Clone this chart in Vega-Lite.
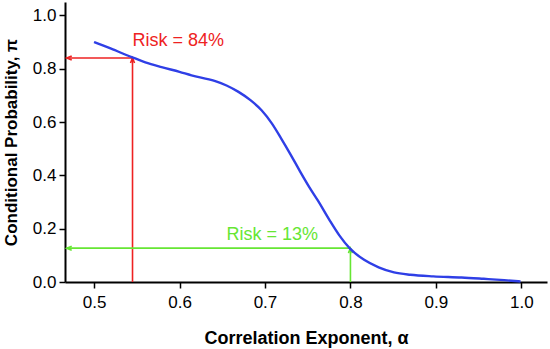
{
  "$schema": "https://vega.github.io/schema/vega-lite/v6.json",
  "width": 482,
  "height": 280,
  "autosize": "none",
  "padding": {"left": 65, "top": 2, "right": 3, "bottom": 67},
  "background": "white",
  "config": {
    "view": {"stroke": null},
    "font": "Liberation Sans",
    "axis": {
      "grid": false,
      "domainColor": "black",
      "domainWidth": 2,
      "tickColor": "black",
      "tickWidth": 1.5,
      "tickSize": 6,
      "labelFont": "Liberation Sans",
      "labelFontSize": 17,
      "labelColor": "black",
      "titleFont": "Liberation Sans",
      "titleFontSize": 17,
      "titleFontWeight": "bold",
      "titleColor": "black"
    }
  },
  "datasets": {
    "curve": [
      {"alpha": 0.5, "pi": 0.9},
      {"alpha": 0.52, "pi": 0.875},
      {"alpha": 0.544, "pi": 0.843},
      {"alpha": 0.56, "pi": 0.824},
      {"alpha": 0.579, "pi": 0.806},
      {"alpha": 0.6, "pi": 0.788},
      {"alpha": 0.614, "pi": 0.775},
      {"alpha": 0.641, "pi": 0.754},
      {"alpha": 0.655, "pi": 0.737},
      {"alpha": 0.669, "pi": 0.713},
      {"alpha": 0.683, "pi": 0.682},
      {"alpha": 0.696, "pi": 0.644},
      {"alpha": 0.708, "pi": 0.595},
      {"alpha": 0.719, "pi": 0.538},
      {"alpha": 0.73, "pi": 0.478},
      {"alpha": 0.741, "pi": 0.415},
      {"alpha": 0.752, "pi": 0.355},
      {"alpha": 0.762, "pi": 0.305},
      {"alpha": 0.775, "pi": 0.235},
      {"alpha": 0.787, "pi": 0.175},
      {"alpha": 0.799, "pi": 0.127},
      {"alpha": 0.816, "pi": 0.083},
      {"alpha": 0.833, "pi": 0.055},
      {"alpha": 0.851, "pi": 0.036},
      {"alpha": 0.87, "pi": 0.027},
      {"alpha": 0.897, "pi": 0.021},
      {"alpha": 0.93, "pi": 0.017},
      {"alpha": 0.956, "pi": 0.012},
      {"alpha": 0.98, "pi": 0.007},
      {"alpha": 0.999, "pi": 0.002}
    ],
    "arrows": [
      {"risk": "84%", "a1": 0.468, "a2": 0.545, "p1": 0.84, "p2": 0.84},
      {"risk": "84%", "a1": 0.545, "a2": 0.545, "p1": 0.0, "p2": 0.84},
      {"risk": "13%", "a1": 0.468, "a2": 0.8, "p1": 0.127, "p2": 0.127},
      {"risk": "13%", "a1": 0.8, "a2": 0.8, "p1": 0.0, "p2": 0.127}
    ],
    "heads": [
      {"risk": "84%", "leftA": 0.468, "upA": 0.545, "p": 0.84},
      {"risk": "13%", "leftA": 0.468, "upA": 0.8, "p": 0.127}
    ],
    "labels": [
      {"risk": "84%", "a": 0.545, "p": 0.903, "text": "Risk = 84%", "anchor": "left"},
      {"risk": "13%", "a": 0.762, "p": 0.177, "text": "Risk = 13%", "anchor": "right"}
    ]
  },
  "layer": [
    {
      "data": {"name": "arrows"},
      "mark": {"type": "rule", "strokeWidth": 1.6},
      "encoding": {
        "x": {"field": "a1", "type": "quantitative", "scale": {"domain": [0.466, 1.03], "nice": false, "zero": false},
          "axis": {"values": [0.5, 0.6, 0.7, 0.8, 0.9, 1.0], "format": ".1f", "title": "Correlation Exponent, α", "titleFontSize": 18, "labelPadding": 6, "titlePadding": 19}},
        "x2": {"field": "a2"},
        "y": {"field": "p1", "type": "quantitative", "scale": {"domain": [0, 1.05], "nice": false},
          "axis": {"values": [0, 0.2, 0.4, 0.6, 0.8, 1.0], "format": ".1f", "title": "Conditional Probability, π", "labelPadding": 3, "titlePadding": 12}},
        "y2": {"field": "p2"},
        "color": {"field": "risk", "type": "nominal", "scale": {"domain": ["84%", "13%"], "range": ["#ee2222", "#66e633"]}, "legend": null}
      }
    },
    {
      "data": {"name": "heads"},
      "mark": {"type": "point", "shape": "M2.5,-1L0,0L2.5,1", "filled": false, "size": 16, "strokeWidth": 1.6, "opacity": 1},
      "encoding": {
        "x": {"field": "leftA", "type": "quantitative"},
        "y": {"field": "p", "type": "quantitative"},
        "color": {"field": "risk", "type": "nominal", "legend": null}
      }
    },
    {
      "data": {"name": "heads"},
      "mark": {"type": "point", "shape": "M-1,2.5L0,0L1,2.5", "filled": false, "size": 16, "strokeWidth": 1.6, "opacity": 1},
      "encoding": {
        "x": {"field": "upA", "type": "quantitative"},
        "y": {"field": "p", "type": "quantitative"},
        "color": {"field": "risk", "type": "nominal", "legend": null}
      }
    },
    {
      "data": {"name": "curve"},
      "mark": {"type": "line", "color": "#2f3fe6", "strokeWidth": 2.4, "interpolate": "monotone"},
      "encoding": {
        "x": {"field": "alpha", "type": "quantitative"},
        "y": {"field": "pi", "type": "quantitative"}
      }
    },
    {
      "data": {"name": "labels"},
      "transform": [{"filter": "datum.anchor == 'left'"}],
      "mark": {"type": "text", "align": "left", "baseline": "middle", "fontSize": 18, "font": "Liberation Sans"},
      "encoding": {
        "x": {"field": "a", "type": "quantitative"},
        "y": {"field": "p", "type": "quantitative"},
        "text": {"field": "text"},
        "color": {"field": "risk", "type": "nominal", "legend": null}
      }
    },
    {
      "data": {"name": "labels"},
      "transform": [{"filter": "datum.anchor == 'right'"}],
      "mark": {"type": "text", "align": "right", "baseline": "middle", "fontSize": 18, "font": "Liberation Sans"},
      "encoding": {
        "x": {"field": "a", "type": "quantitative"},
        "y": {"field": "p", "type": "quantitative"},
        "text": {"field": "text"},
        "color": {"field": "risk", "type": "nominal", "legend": null}
      }
    }
  ]
}
